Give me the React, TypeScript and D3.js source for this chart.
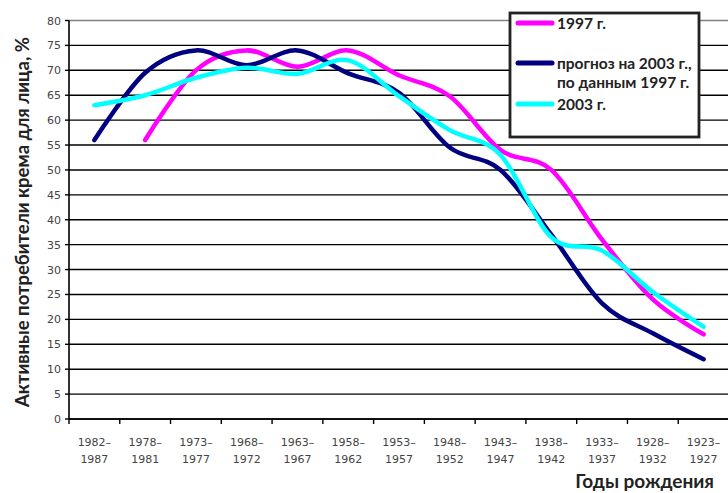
import React from "react";
import * as d3 from "d3";

// categories (birth years) and series values
const categories = [
  "1982–1987", "1978–1981", "1973–1977", "1968–1972", "1963–1967",
  "1958–1962", "1953–1957", "1948–1952", "1943–1947", "1938–1942",
  "1933–1937", "1928–1932", "1923–1927",
];
const values1997: (number | null)[] = [null, 56, 70, 74, 70.7, 74, 69, 64.8, 54, 50, 36, 24, 17];
const valuesForecast: (number | null)[] = [56, 69.5, 74, 71, 74, 69.4, 65.5, 54.5, 50, 37, 23.2, 17.2, 12];
const values2003: (number | null)[] = [63, 65, 68.5, 70.5, 69.3, 72, 64.8, 58, 53, 36.5, 33.8, 25.5, 18.5];
const yTicks = [0, 5, 10, 15, 20, 25, 30, 35, 40, 45, 50, 55, 60, 65, 70, 75, 80];

const seriesList = [
  { name: "1997 г.", values: values1997, color: "#ff00ff" },
  { name: "прогноз на 2003 г.,|по данным 1997 г.", values: valuesForecast, color: "#000080" },
  { name: "2003 г.", values: values2003, color: "#00ffff" },
];

const W = 728;
const H = 493;
const left = 69;
const right = 729;
const top = 20.5;
const bottom = 419;

const App: React.FC = () => {
  const x = d3.scaleBand<string>().domain(categories).range([left, right]);
  const y = d3.scaleLinear().domain([0, 80]).range([bottom, top]);
  const cx = (c: string) => (x(c) as number) + x.bandwidth() / 2;

  const line = d3
    .line<number | null>()
    .defined((d) => d !== null)
    .x((_, i) => cx(categories[i]))
    .y((d) => y(d as number))
    .curve(d3.curveCardinal.tension(0));

  const boundaries = categories.map((c) => x(c) as number).concat([right]);

  return (
    <svg
      width={W}
      height={H}
      style={{ position: "absolute", left: 0, top: 0, background: "#fff" }}
    >
      {/* grid */}
      {yTicks.map((t) => (
        <line
          key={t}
          x1={left}
          x2={W}
          y1={y(t)}
          y2={y(t)}
          stroke={t === 80 ? "#808080" : "#000"}
          strokeWidth={1.4}
        />
      ))}
      {/* y axis */}
      <line x1={left} x2={left} y1={top} y2={bottom} stroke="#000" strokeWidth={1.6} />
      {yTicks.map((t) => (
        <g key={"yt" + t}>
          <line x1={left - 4} x2={left} y1={y(t)} y2={y(t)} stroke="#000" strokeWidth={1.4} />
          <text
            x={left - 8}
            y={y(t) + 4}
            textAnchor="end"
            fontFamily="DejaVu Sans"
            fontSize={11}
            fill="#444"
          >
            {t}
          </text>
        </g>
      ))}
      {/* x axis */}
      <line x1={left} x2={W} y1={bottom} y2={bottom} stroke="#000" strokeWidth={1.6} />
      {boundaries.map((b, i) => (
        <line key={"xt" + i} x1={b} x2={b} y1={bottom} y2={bottom + 5} stroke="#000" strokeWidth={1.4} />
      ))}
      {categories.map((c) => {
        const [a, b] = c.split("–");
        return (
          <text key={c} x={cx(c)} textAnchor="middle" fontFamily="DejaVu Sans" fontSize={11} fill="#444">
            <tspan x={cx(c)} y={446}>{a + "–"}</tspan>
            <tspan x={cx(c)} y={463}>{b}</tspan>
          </text>
        );
      })}

      {/* series */}
      {seriesList.map((s) => (
        <path
          key={s.name}
          d={line(s.values) as string}
          fill="none"
          stroke={s.color}
          strokeWidth={4.5}
          strokeLinecap="round"
          strokeLinejoin="round"
        />
      ))}

      {/* legend */}
      <rect x={510} y={13} width={189} height={124} fill="#fff" stroke="#222" strokeWidth={2.8} />
      {seriesList.map((s, i) => {
        const ly = [23, 63, 104][i];
        const parts = s.name.split("|");
        return (
          <g key={"lg" + i}>
            <line x1={518} x2={552} y1={ly} y2={ly} stroke={s.color} strokeWidth={5} strokeLinecap="round" />
            {parts.map((p, j) => (
              <text
                key={j}
                x={557}
                y={ly + 5.5 + j * 19}
                fontFamily="Lato"
                fontWeight={700}
                fontSize={15.5}
                fill="#222"
              >
                {p}
              </text>
            ))}
          </g>
        );
      })}

      {/* axis titles */}
      <text
        transform={`translate(29, 222) rotate(-90)`}
        textAnchor="middle"
        fontFamily="Lato"
        fontWeight={700}
        fontSize={18.5}
        fill="#222"
      >
        Активные потребители крема для лица, %
      </text>
      <text x={714} y={488} textAnchor="end" fontFamily="Lato" fontWeight={700} fontSize={19} fill="#222">
        Годы рождения
      </text>
    </svg>
  );
};

export default App;
